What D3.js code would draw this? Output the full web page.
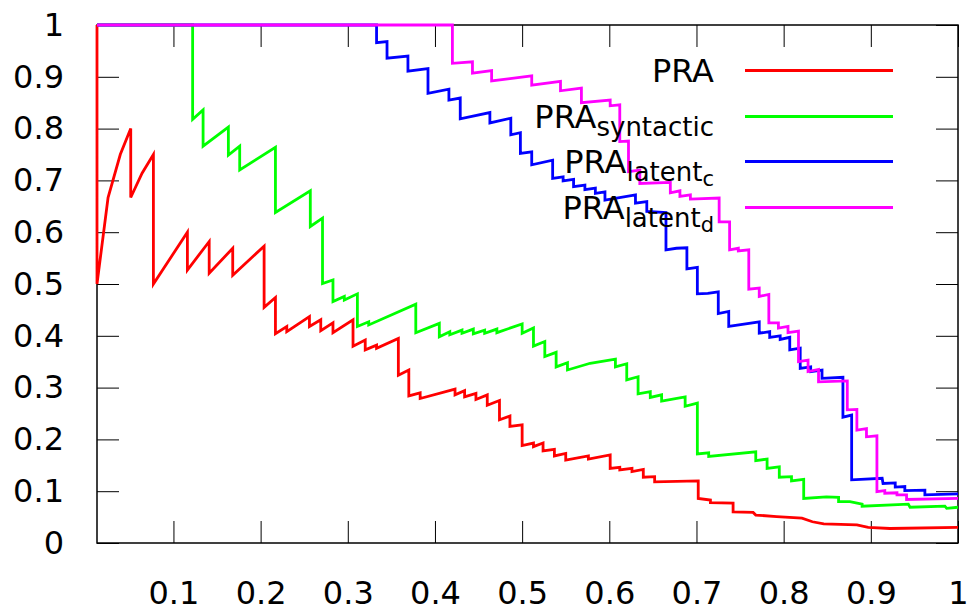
<!DOCTYPE html>
<html>
    <head>
        <meta charset="UTF-8" />
        <script src="https://cdn.jsdelivr.net/npm/d3@7/dist/d3.min.js"></script>
        <style>
            body { margin: 0; background: #fff; }
            text { font-family: "DejaVu Sans", sans-serif; }
        </style>
    </head>
    <body>
        <svg id="chart" width="973" height="615"></svg>
        <script>
            // tick values and labels
            var xTicks = [0.1, 0.2, 0.3, 0.4, 0.5, 0.6, 0.7, 0.8, 0.9, 1]
            var xTickLabels = ["0.1", "0.2", "0.3", "0.4", "0.5", "0.6", "0.7", "0.8", "0.9", "1"]
            var yTicks = [0, 0.1, 0.2, 0.3, 0.4, 0.5, 0.6, 0.7, 0.8, 0.9, 1]
            var yTickLabels = ["0", "0.1", "0.2", "0.3", "0.4", "0.5", "0.6", "0.7", "0.8", "0.9", "1"]

            // PRA
            var praRecall = [0.0123, 0.0123, 0.025, 0.039, 0.051, 0.051, 0.064, 0.077, 0.077, 0.116, 0.116, 0.141, 0.141, 0.168, 0.168, 0.204, 0.204, 0.217, 0.217, 0.230, 0.230, 0.256, 0.256, 0.269, 0.269, 0.283, 0.283, 0.306, 0.306, 0.320, 0.320, 0.333, 0.333, 0.358, 0.358, 0.370, 0.370, 0.383, 0.383, 0.423, 0.423, 0.434, 0.434, 0.447, 0.447, 0.460, 0.460, 0.474, 0.474, 0.486, 0.486, 0.500, 0.500, 0.513, 0.513, 0.524, 0.524, 0.537, 0.537, 0.550, 0.550, 0.576, 0.576, 0.601, 0.601, 0.612, 0.612, 0.626, 0.626, 0.639, 0.639, 0.652, 0.652, 0.702, 0.702, 0.716, 0.716, 0.742, 0.742, 0.765, 0.768, 0.792, 0.821, 0.833, 0.846, 0.884, 0.897, 0.922, 1.0]
            var praPrecision = [1, 0.5, 0.667, 0.75, 0.8, 0.667, 0.714, 0.75, 0.5, 0.6, 0.527, 0.582, 0.521, 0.569, 0.517, 0.573, 0.455, 0.474, 0.404, 0.418, 0.408, 0.437, 0.418, 0.431, 0.41, 0.425, 0.406, 0.431, 0.38, 0.392, 0.373, 0.382, 0.376, 0.395, 0.324, 0.334, 0.284, 0.29, 0.279, 0.297, 0.286, 0.294, 0.282, 0.289, 0.277, 0.286, 0.266, 0.275, 0.238, 0.245, 0.225, 0.228, 0.188, 0.193, 0.186, 0.193, 0.178, 0.181, 0.168, 0.173, 0.16, 0.168, 0.162, 0.17, 0.144, 0.146, 0.141, 0.144, 0.138, 0.142, 0.127, 0.128, 0.118, 0.12, 0.086, 0.083, 0.078, 0.077, 0.06, 0.059, 0.054, 0.051, 0.048, 0.041, 0.037, 0.035, 0.03, 0.028, 0.03]

            // PRA syntactic
            var synRecall = [0.0123, 0.122, 0.122, 0.134, 0.134, 0.163, 0.163, 0.176, 0.176, 0.217, 0.217, 0.257, 0.257, 0.271, 0.271, 0.283, 0.283, 0.296, 0.296, 0.311, 0.311, 0.324, 0.324, 0.378, 0.378, 0.405, 0.405, 0.417, 0.417, 0.431, 0.431, 0.444, 0.444, 0.457, 0.457, 0.471, 0.471, 0.500, 0.500, 0.513, 0.513, 0.526, 0.526, 0.539, 0.539, 0.552, 0.552, 0.578, 0.607, 0.607, 0.620, 0.620, 0.633, 0.633, 0.647, 0.647, 0.660, 0.660, 0.687, 0.687, 0.701, 0.701, 0.714, 0.714, 0.768, 0.768, 0.781, 0.781, 0.795, 0.795, 0.809, 0.809, 0.823, 0.823, 0.849, 0.863, 0.863, 0.876, 0.890, 0.890, 0.943, 0.945, 0.985, 0.987, 1.0]
            var synPrecision = [1, 1, 0.818, 0.836, 0.766, 0.803, 0.749, 0.766, 0.72, 0.764, 0.638, 0.68, 0.611, 0.627, 0.501, 0.508, 0.466, 0.476, 0.469, 0.481, 0.418, 0.427, 0.421, 0.461, 0.406, 0.424, 0.398, 0.408, 0.402, 0.411, 0.405, 0.413, 0.404, 0.411, 0.405, 0.413, 0.406, 0.423, 0.405, 0.415, 0.38, 0.389, 0.36, 0.368, 0.34, 0.348, 0.334, 0.347, 0.355, 0.34, 0.346, 0.315, 0.321, 0.288, 0.292, 0.281, 0.286, 0.274, 0.282, 0.264, 0.27, 0.172, 0.174, 0.167, 0.176, 0.159, 0.162, 0.144, 0.147, 0.127, 0.128, 0.12, 0.123, 0.086, 0.089, 0.088, 0.08, 0.08, 0.075, 0.071, 0.075, 0.069, 0.071, 0.067, 0.069]

            // PRA latent_c
            var latcRecall = [0.0123, 0.333, 0.333, 0.345, 0.345, 0.369, 0.369, 0.392, 0.392, 0.416, 0.416, 0.429, 0.429, 0.463, 0.463, 0.487, 0.487, 0.498, 0.498, 0.511, 0.511, 0.535, 0.535, 0.547, 0.547, 0.559, 0.559, 0.572, 0.572, 0.584, 0.584, 0.595, 0.595, 0.630, 0.630, 0.643, 0.643, 0.665, 0.665, 0.677, 0.689, 0.689, 0.701, 0.701, 0.713, 0.725, 0.725, 0.737, 0.737, 0.772, 0.772, 0.784, 0.784, 0.796, 0.796, 0.807, 0.807, 0.819, 0.819, 0.831, 0.831, 0.844, 0.844, 0.868, 0.868, 0.878, 0.878, 0.913, 0.914, 0.928, 0.928, 0.939, 0.939, 0.962, 0.962, 1.0]
            var latcPrecision = [1, 1, 0.966, 0.968, 0.936, 0.94, 0.911, 0.916, 0.868, 0.876, 0.855, 0.859, 0.819, 0.831, 0.811, 0.82, 0.788, 0.792, 0.752, 0.755, 0.73, 0.739, 0.704, 0.707, 0.699, 0.702, 0.688, 0.691, 0.682, 0.685, 0.675, 0.678, 0.662, 0.672, 0.656, 0.659, 0.64, 0.638, 0.566, 0.569, 0.57, 0.529, 0.532, 0.481, 0.482, 0.485, 0.443, 0.447, 0.418, 0.427, 0.405, 0.408, 0.397, 0.4, 0.393, 0.397, 0.373, 0.376, 0.337, 0.34, 0.331, 0.334, 0.318, 0.32, 0.243, 0.247, 0.122, 0.125, 0.115, 0.116, 0.108, 0.109, 0.101, 0.102, 0.093, 0.095]

            // PRA latent_d
            var latdRecall = [0.0123, 0.420, 0.420, 0.443, 0.443, 0.465, 0.465, 0.511, 0.511, 0.544, 0.544, 0.568, 0.568, 0.601, 0.601, 0.612, 0.612, 0.622, 0.622, 0.635, 0.635, 0.670, 0.670, 0.681, 0.681, 0.693, 0.693, 0.726, 0.726, 0.738, 0.738, 0.748, 0.748, 0.760, 0.760, 0.772, 0.772, 0.783, 0.783, 0.794, 0.794, 0.805, 0.805, 0.817, 0.817, 0.828, 0.828, 0.840, 0.840, 0.873, 0.873, 0.884, 0.884, 0.895, 0.895, 0.907, 0.907, 0.916, 0.916, 0.930, 0.930, 0.941, 0.941, 1.0]
            var latdPrecision = [1, 1, 0.926, 0.929, 0.907, 0.912, 0.892, 0.902, 0.884, 0.891, 0.873, 0.878, 0.85, 0.855, 0.844, 0.846, 0.775, 0.776, 0.717, 0.72, 0.694, 0.696, 0.676, 0.68, 0.669, 0.672, 0.664, 0.666, 0.62, 0.62, 0.566, 0.569, 0.564, 0.566, 0.49, 0.492, 0.476, 0.48, 0.425, 0.425, 0.415, 0.418, 0.406, 0.409, 0.35, 0.353, 0.331, 0.335, 0.311, 0.313, 0.257, 0.258, 0.218, 0.221, 0.205, 0.207, 0.099, 0.101, 0.096, 0.097, 0.093, 0.093, 0.084, 0.086]

            var svg = d3.select("#chart")

            var xScale = d3.scaleLinear().domain([0.0123, 1]).range([97, 958])
            var yScale = d3.scaleLinear().domain([0, 1]).range([543, 25])

            // axes with inward ticks, mirrored on top and right
            var xAxis = d3.axisBottom(xScale)
                .tickValues(xTicks)
                .tickSize(-22)
                .tickPadding(38)
                .tickFormat((d, i) => xTickLabels[i])
            svg.append("g").attr("class", "axis").attr("transform", "translate(0,543)").call(xAxis)

            var yAxis = d3.axisLeft(yScale)
                .tickValues(yTicks)
                .tickSize(-22)
                .tickPadding(33)
                .tickFormat((d, i) => yTickLabels[i])
            svg.append("g").attr("class", "axis").attr("transform", "translate(97,0)").call(yAxis)

            var xTop = d3.axisTop(xScale).tickValues(xTicks).tickSize(-22).tickFormat("")
            svg.append("g").attr("class", "axis").attr("transform", "translate(0,25)").call(xTop)

            var yRight = d3.axisRight(yScale).tickValues(yTicks).tickSize(-22).tickFormat("")
            svg.append("g").attr("class", "axis").attr("transform", "translate(958,0)").call(yRight)

            svg.selectAll(".axis .domain").remove()
            svg.selectAll(".axis line").attr("stroke", "#000").attr("stroke-width", 1)
            svg.selectAll(".axis text")
                .attr("font-family", "DejaVu Sans")
                .attr("font-size", 32)
                .attr("fill", "#000")

            svg.append("rect")
                .attr("x", 97)
                .attr("y", 25)
                .attr("width", 958 - 97)
                .attr("height", 543 - 25)
                .attr("fill", "none")
                .attr("stroke", "#000")
                .attr("stroke-width", 1.5)

            var series = [
                {recall: praRecall, precision: praPrecision, color: "#ff0000", label: ["PRA"]},
                {recall: synRecall, precision: synPrecision, color: "#00ff00", label: ["PRA", "syntactic"]},
                {recall: latcRecall, precision: latcPrecision, color: "#0000ff", label: ["PRA", "latent", "c"]},
                {recall: latdRecall, precision: latdPrecision, color: "#ff00ff", label: ["PRA", "latent", "d"]}
            ]

            var line = d3.line()
                .x(d => xScale(d[0]))
                .y(d => yScale(d[1]))

            series.forEach(function (s) {
                var pts = s.recall.map((r, i) => [r, s.precision[i]])
                svg.append("path")
                    .attr("d", line(pts))
                    .attr("fill", "none")
                    .attr("stroke", s.color)
                    .attr("stroke-width", 2.8)
                    .attr("stroke-linejoin", "miter")
            })

            // legend
            var legendRows = [70.5, 116.5, 161.5, 207.5]
            var sizes = [32, 26, 21]
            var shifts = [0, 8, 5]
            series.forEach(function (s, i) {
                var y = legendRows[i]
                svg.append("line")
                    .attr("x1", 745).attr("x2", 893)
                    .attr("y1", y).attr("y2", y)
                    .attr("stroke", s.color)
                    .attr("stroke-width", 2.8)

                var t = svg.append("text")
                    .attr("x", 714)
                    .attr("y", y + 11)
                    .attr("text-anchor", "end")
                    .attr("fill", "#000")
                s.label.forEach(function (part, k) {
                    t.append("tspan")
                        .attr("font-size", sizes[k])
                        .attr("dy", shifts[k])
                        .text(part)
                })
            })
        </script>
    </body>
</html>
